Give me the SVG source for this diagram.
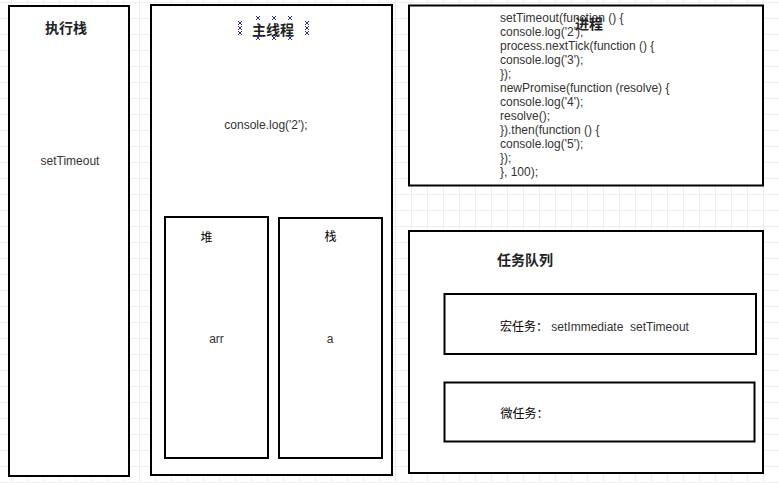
<svg xmlns="http://www.w3.org/2000/svg" width="779" height="483" viewBox="0 0 779 483">
<style>
.box{fill:#fff;stroke:#000;stroke-width:2}
.cjk{font-family:"Liberation Sans","Noto Sans CJK SC",sans-serif;fill:#000}
.b{font-weight:bold;font-size:14px;fill:#222}
.t{font-family:"Liberation Sans","Noto Sans CJK SC",sans-serif;font-size:12px;fill:#333}
.h{stroke:#2a2aa8;stroke-width:1;fill:none}
</style>
<defs>
<pattern id="grid" x="11" y="2" width="16" height="16" patternUnits="userSpaceOnUse">
<path d="M0.5 0V16M0 0.5H16" stroke="#eeeeee" stroke-width="1" fill="none"/>
</pattern>
<path id="hx" d="M-2 -2L2 2M2 -2L-2 2"/>
</defs>
<rect width="779" height="483" fill="#fff"/>
<rect width="779" height="483" fill="url(#grid)"/>

<g id="exec-stack">
<rect class="box" x="9" y="6" width="120" height="470"/>
<text class="cjk b" x="66" y="33" text-anchor="middle">执行栈</text>
<text class="t" x="70" y="165" text-anchor="middle">setTimeout</text>
</g>

<g id="main-thread">
<rect class="box" x="151" y="5" width="241" height="470"/>
<text class="cjk b" x="273" y="35" text-anchor="middle" font-size="15">主线程</text>
<g class="h">
<use href="#hx" x="240" y="23"/><use href="#hx" x="240" y="28"/><use href="#hx" x="240" y="33"/>
<use href="#hx" x="307" y="23"/><use href="#hx" x="307" y="28"/><use href="#hx" x="307" y="33"/>
<use href="#hx" x="258" y="18"/><use href="#hx" x="274" y="18"/><use href="#hx" x="290" y="18"/>
<use href="#hx" x="258" y="38"/><use href="#hx" x="274" y="38"/><use href="#hx" x="290" y="38"/>
</g>
<text class="t" x="266" y="129" text-anchor="middle">console.log('2');</text>
</g>

<g id="heap">
<rect class="box" x="165" y="217" width="103" height="241"/>
<text class="cjk" x="206.5" y="242" font-size="12" text-anchor="middle">堆</text>
<text class="t" x="216.5" y="343" text-anchor="middle">arr</text>
</g>

<g id="stack">
<rect class="box" x="279" y="218" width="103" height="240"/>
<text class="cjk" x="330.5" y="241" font-size="12" text-anchor="middle">栈</text>
<text class="t" x="330" y="343" text-anchor="middle">a</text>
</g>

<g id="process">
<rect class="box" x="409" y="5.5" width="354" height="180"/>
<text class="t" x="500">
<tspan x="500" y="22">setTimeout(function () {</tspan>
<tspan x="500" y="36">console.log('2');</tspan>
<tspan x="500" y="50">process.nextTick(function () {</tspan>
<tspan x="500" y="64">console.log('3');</tspan>
<tspan x="500" y="78">});</tspan>
<tspan x="500" y="92">newPromise(function (resolve) {</tspan>
<tspan x="500" y="106">console.log('4');</tspan>
<tspan x="500" y="120">resolve();</tspan>
<tspan x="500" y="134">}).then(function () {</tspan>
<tspan x="500" y="148">console.log('5');</tspan>
<tspan x="500" y="162">});</tspan>
<tspan x="500" y="176">}, 100);</tspan>
</text>
<text class="cjk b" x="589" y="29" text-anchor="middle">进程</text>
</g>

<g id="task-queue">
<rect class="box" x="409" y="231" width="354" height="242"/>
<text class="cjk b" x="525" y="265" text-anchor="middle">任务队列</text>
</g>

<g id="macro-task">
<rect class="box" x="444.5" y="294" width="311.5" height="60"/>
<text x="500" y="331" font-size="12"><tspan class="cjk">宏任务：</tspan><tspan class="t" xml:space="preserve"> setImmediate  setTimeout</tspan></text>
</g>

<g id="micro-task">
<rect class="box" x="444.5" y="382.5" width="310" height="59"/>
<text class="cjk" x="500.5" y="418" font-size="12">微任务：</text>
</g>

<g id="connectors"></g>
</svg>
